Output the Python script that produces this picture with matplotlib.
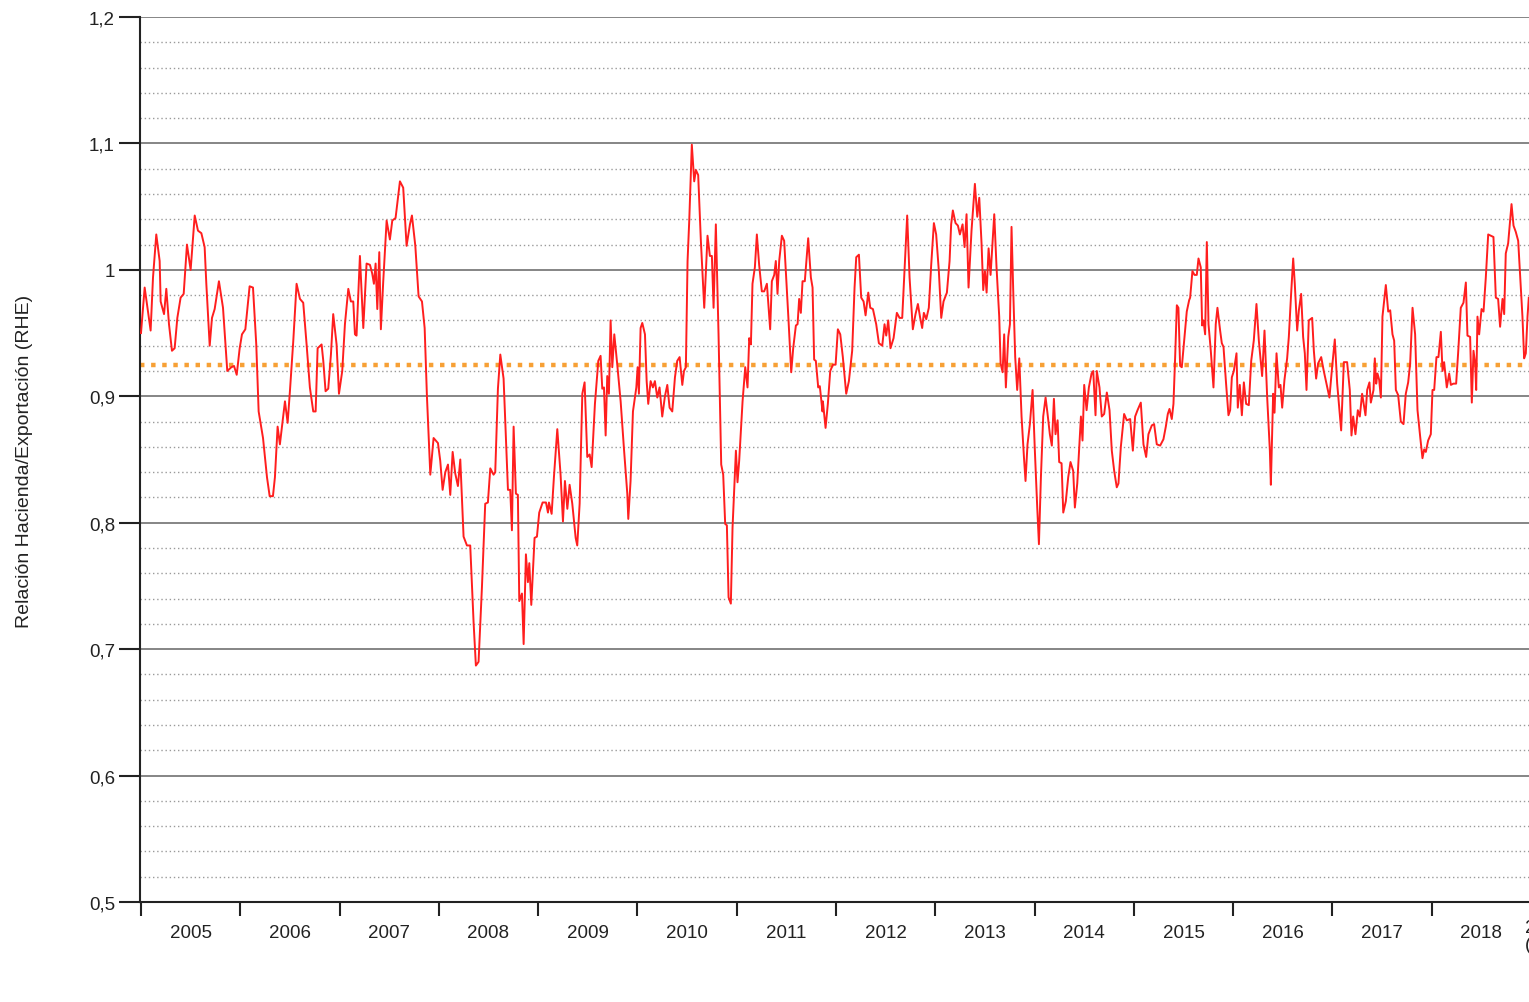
import matplotlib
matplotlib.use("Agg")
import matplotlib.pyplot as plt
from matplotlib.ticker import FixedLocator, NullFormatter, FixedFormatter
import numpy as np

plt.rcParams['font.family'] = ['Liberation Sans', 'DejaVu Sans']

# ---------------- data ----------------
fecha = [
    2005.000, 2005.037, 2005.097, 2005.121, 2005.154, 2005.188, 2005.198, 2005.232, 2005.255, 2005.282,
    2005.312, 2005.339, 2005.366, 2005.399, 2005.430, 2005.463, 2005.500, 2005.541, 2005.574, 2005.608,
    2005.641, 2005.658, 2005.692, 2005.715, 2005.742, 2005.785, 2005.826, 2005.869, 2005.910, 2005.937,
    2005.964, 2005.994, 2006.017, 2006.051, 2006.094, 2006.128, 2006.161, 2006.185, 2006.229, 2006.269,
    2006.296, 2006.329,
    2006.349, 2006.376, 2006.399, 2006.423, 2006.450, 2006.477, 2006.500, 2006.534, 2006.567, 2006.601,
    2006.634, 2006.668, 2006.701, 2006.735, 2006.759, 2006.779, 2006.819, 2006.836, 2006.859, 2006.886,
    2006.913, 2006.936, 2006.970, 2006.994, 2007.027, 2007.054, 2007.088, 2007.114, 2007.138, 2007.155,
    2007.171, 2007.205, 2007.239, 2007.272, 2007.306, 2007.329, 2007.346, 2007.363, 2007.380, 2007.400,
    2007.416, 2007.440, 2007.474, 2007.507, 2007.531, 2007.564, 2007.608, 2007.641, 2007.675, 2007.709,
    2007.729, 2007.763, 2007.796, 2007.830, 2007.857, 2007.880, 2007.914, 2007.947, 2007.991, 2008.014,
    2008.038, 2008.065, 2008.092, 2008.115, 2008.139, 2008.165, 2008.192, 2008.216, 2008.249, 2008.283,
    2008.316, 2008.350, 2008.373, 2008.400, 2008.434, 2008.467, 2008.494, 2008.518, 2008.551, 2008.568,
    2008.595, 2008.619, 2008.652, 2008.696, 2008.719, 2008.736, 2008.753, 2008.776, 2008.796, 2008.810,
    2008.837, 2008.854, 2008.877, 2008.897, 2008.911, 2008.931, 2008.964, 2008.988, 2009.011, 2009.045,
    2009.079, 2009.099,
    2009.109, 2009.136, 2009.159, 2009.193, 2009.226, 2009.250, 2009.270, 2009.294, 2009.317, 2009.344,
    2009.378, 2009.394, 2009.418, 2009.445, 2009.468, 2009.495, 2009.519, 2009.539, 2009.572, 2009.606,
    2009.629, 2009.646, 2009.663, 2009.680, 2009.696, 2009.713, 2009.730, 2009.747, 2009.767, 2009.797,
    2009.831, 2009.864, 2009.898, 2009.908, 2009.931, 2009.955, 2009.989, 2010.002, 2010.015, 2010.032,
    2010.049, 2010.076, 2010.093, 2010.109, 2010.133, 2010.156, 2010.176, 2010.200, 2010.223, 2010.250,
    2010.277, 2010.301, 2010.324, 2010.351, 2010.378, 2010.401, 2010.425, 2010.452, 2010.469,
    2010.488, 2010.505, 2010.522, 2010.548, 2010.572, 2010.589, 2010.612, 2010.639, 2010.673, 2010.706,
    2010.730, 2010.750, 2010.767, 2010.790, 2010.817, 2010.844, 2010.864, 2010.884, 2010.901, 2010.918,
    2010.941, 2010.958, 2010.992, 2011.008, 2011.025, 2011.059, 2011.086, 2011.109, 2011.126, 2011.143,
    2011.159, 2011.183, 2011.203, 2011.226, 2011.253, 2011.277, 2011.304, 2011.337, 2011.354, 2011.378,
    2011.394, 2011.411, 2011.428, 2011.455, 2011.478, 2011.495, 2011.522, 2011.549, 2011.569, 2011.596,
    2011.613, 2011.629, 2011.646, 2011.663, 2011.686, 2011.720, 2011.747, 2011.764, 2011.780, 2011.797,
    2011.821, 2011.837, 2011.864,
    2011.868, 2011.895, 2011.918, 2011.942, 2011.969, 2011.996, 2012.019, 2012.043, 2012.069, 2012.103,
    2012.130, 2012.163, 2012.187, 2012.204, 2012.231, 2012.254, 2012.278, 2012.298, 2012.325, 2012.345,
    2012.372, 2012.405, 2012.432, 2012.466, 2012.489, 2012.506, 2012.526, 2012.549, 2012.580, 2012.613,
    2012.640, 2012.667, 2012.690, 2012.717, 2012.741, 2012.774, 2012.801, 2012.825, 2012.848, 2012.868,
    2012.885, 2012.909, 2012.935, 2012.959, 2012.986, 2013.009, 2013.036, 2013.060, 2013.083, 2013.117,
    2013.144, 2013.160, 2013.177, 2013.204, 2013.228,
    2013.248, 2013.275, 2013.295, 2013.315, 2013.335, 2013.365, 2013.399, 2013.423, 2013.443, 2013.466,
    2013.483, 2013.500, 2013.517, 2013.537, 2013.557, 2013.574, 2013.594, 2013.617, 2013.644, 2013.658,
    2013.678, 2013.694, 2013.711, 2013.735, 2013.752, 2013.768, 2013.785, 2013.805, 2013.825, 2013.846,
    2013.869, 2013.893, 2013.909, 2013.929, 2013.953, 2013.980, 2014.003, 2014.027, 2014.044, 2014.064,
    2014.087, 2014.111, 2014.131, 2014.154, 2014.174, 2014.195, 2014.211, 2014.232, 2014.248, 2014.272,
    2014.289, 2014.315, 2014.339, 2014.362, 2014.389, 2014.406, 2014.430, 2014.450, 2014.467, 2014.483,
    2014.500, 2014.524, 2014.547, 2014.574, 2014.591, 2014.614,
    2014.627, 2014.654, 2014.677, 2014.701, 2014.728, 2014.755, 2014.778, 2014.802, 2014.828, 2014.845,
    2014.869, 2014.902, 2014.929, 2014.963, 2014.990, 2015.013, 2015.037, 2015.070, 2015.097, 2015.124,
    2015.147, 2015.181, 2015.204, 2015.231, 2015.265, 2015.298, 2015.322, 2015.342, 2015.359, 2015.382,
    2015.399, 2015.416, 2015.433, 2015.449, 2015.466, 2015.483, 2015.507, 2015.533, 2015.557, 2015.567,
    2015.590, 2015.611, 2015.634, 2015.651, 2015.674, 2015.688, 2015.701, 2015.718, 2015.735, 2015.752,
    2015.775, 2015.802, 2015.825, 2015.842, 2015.869, 2015.886, 2015.903, 2015.929, 2015.953, 2015.970,
    2015.987,
    2016.007, 2016.034, 2016.047, 2016.067, 2016.088, 2016.108, 2016.131, 2016.158, 2016.182, 2016.208,
    2016.235, 2016.259, 2016.292, 2016.316, 2016.343, 2016.370, 2016.380, 2016.403, 2016.417, 2016.437,
    2016.460, 2016.477, 2016.494, 2016.517, 2016.544, 2016.561, 2016.584, 2016.605, 2016.621, 2016.645,
    2016.662, 2016.685, 2016.705, 2016.722, 2016.739, 2016.762, 2016.796, 2016.813, 2016.836, 2016.856,
    2016.887, 2016.913, 2016.940, 2016.970, 2016.997, 2017.024, 2017.048, 2017.088, 2017.115, 2017.148,
    2017.175, 2017.192, 2017.209, 2017.232, 2017.256, 2017.276, 2017.299, 2017.333, 2017.350, 2017.373,
    2017.387, 2017.414, 2017.427, 2017.441, 2017.454, 2017.471, 2017.488, 2017.504, 2017.538, 2017.562,
    2017.582, 2017.605, 2017.622, 2017.639, 2017.662, 2017.689, 2017.716, 2017.739, 2017.763, 2017.783,
    2017.807, 2017.833, 2017.857, 2017.884, 2017.907, 2017.924, 2017.941, 2017.964, 2017.991, 2018.008,
    2018.025, 2018.048, 2018.068, 2018.092, 2018.109, 2018.125, 2018.152, 2018.176, 2018.193, 2018.219,
    2018.246, 2018.266, 2018.293, 2018.320, 2018.344, 2018.360, 2018.387, 2018.404, 2018.421, 2018.438,
    2018.448, 2018.461, 2018.478, 2018.502, 2018.522, 2018.545, 2018.569, 2018.596, 2018.622, 2018.646,
    2018.669, 2018.689, 2018.713, 2018.730, 2018.746, 2018.770, 2018.804, 2018.824, 2018.847, 2018.871,
    2018.898, 2018.914, 2018.931, 2018.948, 2018.965, 2018.978,
]

rhe = [
    0.950, 0.986, 0.952, 0.994, 1.028, 1.007, 0.975, 0.965, 0.985, 0.957,
    0.936, 0.938, 0.962, 0.978, 0.981, 1.020, 1.000, 1.043, 1.031, 1.029,
    1.018, 0.989, 0.940, 0.962, 0.969, 0.991, 0.970, 0.920, 0.923, 0.924,
    0.917, 0.938, 0.949, 0.953, 0.987, 0.986, 0.941, 0.888, 0.867, 0.836,
    0.821, 0.821,
    0.836, 0.876, 0.862, 0.878, 0.896, 0.879, 0.904, 0.944, 0.989, 0.977,
    0.974, 0.941, 0.907, 0.888, 0.888, 0.938, 0.941, 0.928, 0.904, 0.906,
    0.933, 0.965, 0.941, 0.902, 0.920, 0.957, 0.985, 0.975, 0.975, 0.949,
    0.948, 1.011, 0.954, 1.005, 1.004, 0.997, 0.989, 1.005, 0.969, 1.014,
    0.953, 0.991, 1.039, 1.024, 1.039, 1.041, 1.070, 1.065, 1.019, 1.036,
    1.043, 1.019, 0.979, 0.975, 0.954, 0.900, 0.838, 0.867, 0.863, 0.849,
    0.826, 0.840, 0.846, 0.822, 0.856, 0.839, 0.829, 0.850, 0.789, 0.782,
    0.782, 0.721, 0.687, 0.690, 0.749, 0.815, 0.816, 0.843, 0.838, 0.840,
    0.906, 0.933, 0.914, 0.826, 0.826, 0.794, 0.876, 0.823, 0.822, 0.738,
    0.744, 0.704, 0.775, 0.753, 0.768, 0.735, 0.788, 0.789, 0.808, 0.816,
    0.816, 0.808,
    0.816, 0.807, 0.836, 0.874, 0.838, 0.801, 0.833, 0.811, 0.830, 0.815,
    0.788, 0.782, 0.815, 0.902, 0.911, 0.852, 0.854, 0.844, 0.894, 0.928,
    0.932, 0.906, 0.907, 0.869, 0.916, 0.902, 0.960, 0.923, 0.949, 0.925,
    0.896, 0.859, 0.823, 0.803, 0.833, 0.888, 0.907, 0.923, 0.902, 0.954,
    0.958, 0.949, 0.912, 0.894, 0.912, 0.907, 0.912, 0.899, 0.907, 0.884,
    0.900, 0.909, 0.891, 0.888, 0.915, 0.928, 0.931, 0.909, 0.920,
    0.923, 1.007, 1.039, 1.099, 1.070, 1.079, 1.075, 1.023, 0.970, 1.027,
    1.011, 1.011, 0.970, 1.036, 0.949, 0.846, 0.838, 0.799, 0.798, 0.741,
    0.736, 0.796, 0.857, 0.832, 0.849, 0.896, 0.923, 0.907, 0.946, 0.941,
    0.989, 1.002, 1.028, 1.004, 0.983, 0.983, 0.989, 0.953, 0.991, 0.996,
    1.007, 0.981, 1.007, 1.027, 1.023, 0.999, 0.960, 0.919, 0.938, 0.956,
    0.957, 0.977, 0.966, 0.991, 0.991, 1.025, 0.994, 0.986, 0.929, 0.928,
    0.907, 0.908, 0.888,
    0.896, 0.875, 0.894, 0.920, 0.925, 0.925, 0.953, 0.949, 0.931, 0.902,
    0.912, 0.936, 0.986, 1.010, 1.012, 0.978, 0.975, 0.964, 0.982, 0.970,
    0.969, 0.957, 0.942, 0.940, 0.957, 0.948, 0.960, 0.938, 0.946, 0.966,
    0.962, 0.962, 0.999, 1.043, 0.994, 0.953, 0.965, 0.973, 0.962, 0.954,
    0.966, 0.961, 0.970, 1.004, 1.037, 1.028, 0.999, 0.962, 0.975, 0.982,
    1.007, 1.036, 1.047, 1.037, 1.035,
    1.028, 1.036, 1.018, 1.044, 0.986, 1.031, 1.068, 1.042, 1.057, 1.021,
    0.984, 0.999, 0.982, 1.017, 0.996, 1.018, 1.044, 1.002, 0.963, 0.926,
    0.919, 0.949, 0.907, 0.947, 0.957, 1.034, 0.984, 0.931, 0.905, 0.930,
    0.884, 0.852, 0.833, 0.862, 0.878, 0.905, 0.857, 0.812, 0.783, 0.836,
    0.884, 0.899, 0.886, 0.870, 0.861, 0.898, 0.870, 0.881, 0.848, 0.847,
    0.808, 0.817, 0.836, 0.848, 0.841, 0.812, 0.831, 0.860, 0.884, 0.865,
    0.909, 0.889, 0.907, 0.918, 0.920, 0.885,
    0.920, 0.907, 0.884, 0.886, 0.903, 0.889, 0.857, 0.841, 0.828, 0.831,
    0.860, 0.886, 0.881, 0.882, 0.857, 0.884, 0.889, 0.895, 0.862, 0.852,
    0.870, 0.877, 0.878, 0.862, 0.861, 0.866, 0.876, 0.886, 0.890, 0.882,
    0.894, 0.931, 0.972, 0.970, 0.924, 0.923, 0.944, 0.967, 0.976, 0.978,
    0.999, 0.996, 0.996, 1.009, 1.002, 0.956, 0.960, 0.949, 1.022, 0.957,
    0.936, 0.907, 0.957, 0.970, 0.952, 0.942, 0.939, 0.910, 0.885, 0.889,
    0.915,
    0.920, 0.934, 0.891, 0.909, 0.885, 0.911, 0.894, 0.893, 0.928, 0.944,
    0.973, 0.944, 0.916, 0.952, 0.899, 0.857, 0.830, 0.902, 0.887, 0.934,
    0.907, 0.909, 0.891, 0.913, 0.930, 0.947, 0.981, 1.009, 0.989, 0.952,
    0.968, 0.981, 0.947, 0.934, 0.905, 0.960, 0.962, 0.936, 0.914, 0.926,
    0.931, 0.920, 0.910, 0.899, 0.923, 0.945, 0.910, 0.873, 0.927, 0.927,
    0.905, 0.869, 0.884, 0.870, 0.889, 0.884, 0.902, 0.885, 0.905, 0.911,
    0.895, 0.905, 0.930, 0.910, 0.918, 0.913, 0.899, 0.963, 0.988, 0.967,
    0.968, 0.949, 0.944, 0.905, 0.901, 0.880, 0.878, 0.902, 0.911, 0.926,
    0.970, 0.949, 0.889, 0.868, 0.851, 0.858, 0.856, 0.865, 0.870, 0.905,
    0.905, 0.931, 0.931, 0.951, 0.920, 0.927, 0.907, 0.918, 0.909, 0.910,
    0.910, 0.934, 0.970, 0.974, 0.990, 0.948, 0.947, 0.895, 0.936, 0.926,
    0.905, 0.963, 0.949, 0.969, 0.967, 0.994, 1.028, 1.027, 1.026, 0.978,
    0.977, 0.955, 0.977, 0.965, 1.013, 1.021, 1.052, 1.035, 1.030, 1.023,
    0.986, 0.963, 0.930, 0.934, 0.963, 0.978,
]

media_rhe = 0.925
anios = [2005, 2006, 2007, 2008, 2009, 2010, 2011, 2012, 2013, 2014, 2015, 2016, 2017, 2018]
y_ticks = [0.5, 0.6, 0.7, 0.8, 0.9, 1.0, 1.1, 1.2]
y_tick_labels = ["0,5", "0,6", "0,7", "0,8", "0,9", "1", "1,1", "1,2"]
y_minor = [0.52, 0.54, 0.56, 0.58, 0.62, 0.64, 0.66, 0.68, 0.72, 0.74, 0.76, 0.78,
           0.82, 0.84, 0.86, 0.88, 0.92, 0.94, 0.96, 0.98, 1.02, 1.04, 1.06, 1.08,
           1.12, 1.14, 1.16, 1.18]
y_label = "Relación Hacienda/Exportación (RHE)"

# ---------------- figure ----------------
W, H = 1529, 1003
fig = plt.figure(figsize=(W / 100, H / 100), dpi=100)
fig.patch.set_facecolor("white")
ax = fig.add_axes([140 / W, (H - 903) / H, 1389 / W, 885 / H])

ax.set_xlim(2004.99, 2018.98)
ax.set_ylim(0.5, 1.2)

# grid
for v in y_minor:
    ax.axhline(v, color="#9a9a9a", lw=1.0, ls=(0, (1, 2)), zorder=1)
for v in y_ticks:
    ax.axhline(v, color="#858585", lw=1.4, zorder=1)

ax.axhline(media_rhe, color="#F7A035", lw=3.2, ls=(0, (1, 1.5)), zorder=2)
ax.plot(fecha, rhe, color="#FF1E1E", lw=1.4, zorder=3)

for s in ["top", "right"]:
    ax.spines[s].set_visible(False)
for s in ["left", "bottom"]:
    ax.spines[s].set_color("#222222")
    ax.spines[s].set_linewidth(1.5)

ax.yaxis.set_major_locator(FixedLocator(y_ticks))
ax.yaxis.set_major_formatter(FixedFormatter(y_tick_labels))
ax.tick_params(axis="y", which="major", direction="out", length=15, width=1.5,
               color="#222222", labelsize=13.5, labelcolor="#222222", pad=3)

ax.xaxis.set_major_locator(FixedLocator(anios + [2019]))
ax.xaxis.set_major_formatter(NullFormatter())
ax.xaxis.set_minor_locator(FixedLocator([a + 0.5 for a in anios]))
ax.xaxis.set_minor_formatter(FixedFormatter([str(a) for a in anios]))
ax.tick_params(axis="x", which="major", direction="out", length=10, width=1.5, color="#222222")
ax.tick_params(axis="x", which="minor", length=0, labelsize=13.5, labelcolor="#222222", pad=16)

# partially visible label of the next year at the right edge
ax.text(2018.935, -0.019, "2019\n(", transform=ax.get_xaxis_transform(),
        ha="left", va="top", fontsize=13.5, color="#222222", clip_on=False, linespacing=1.05)

fig.text(25 / W, (H - 461) / H, y_label, rotation=90, ha="center", va="center",
         fontsize=14, color="#222222")

fig.savefig("out.png", dpi=100, facecolor="white")
